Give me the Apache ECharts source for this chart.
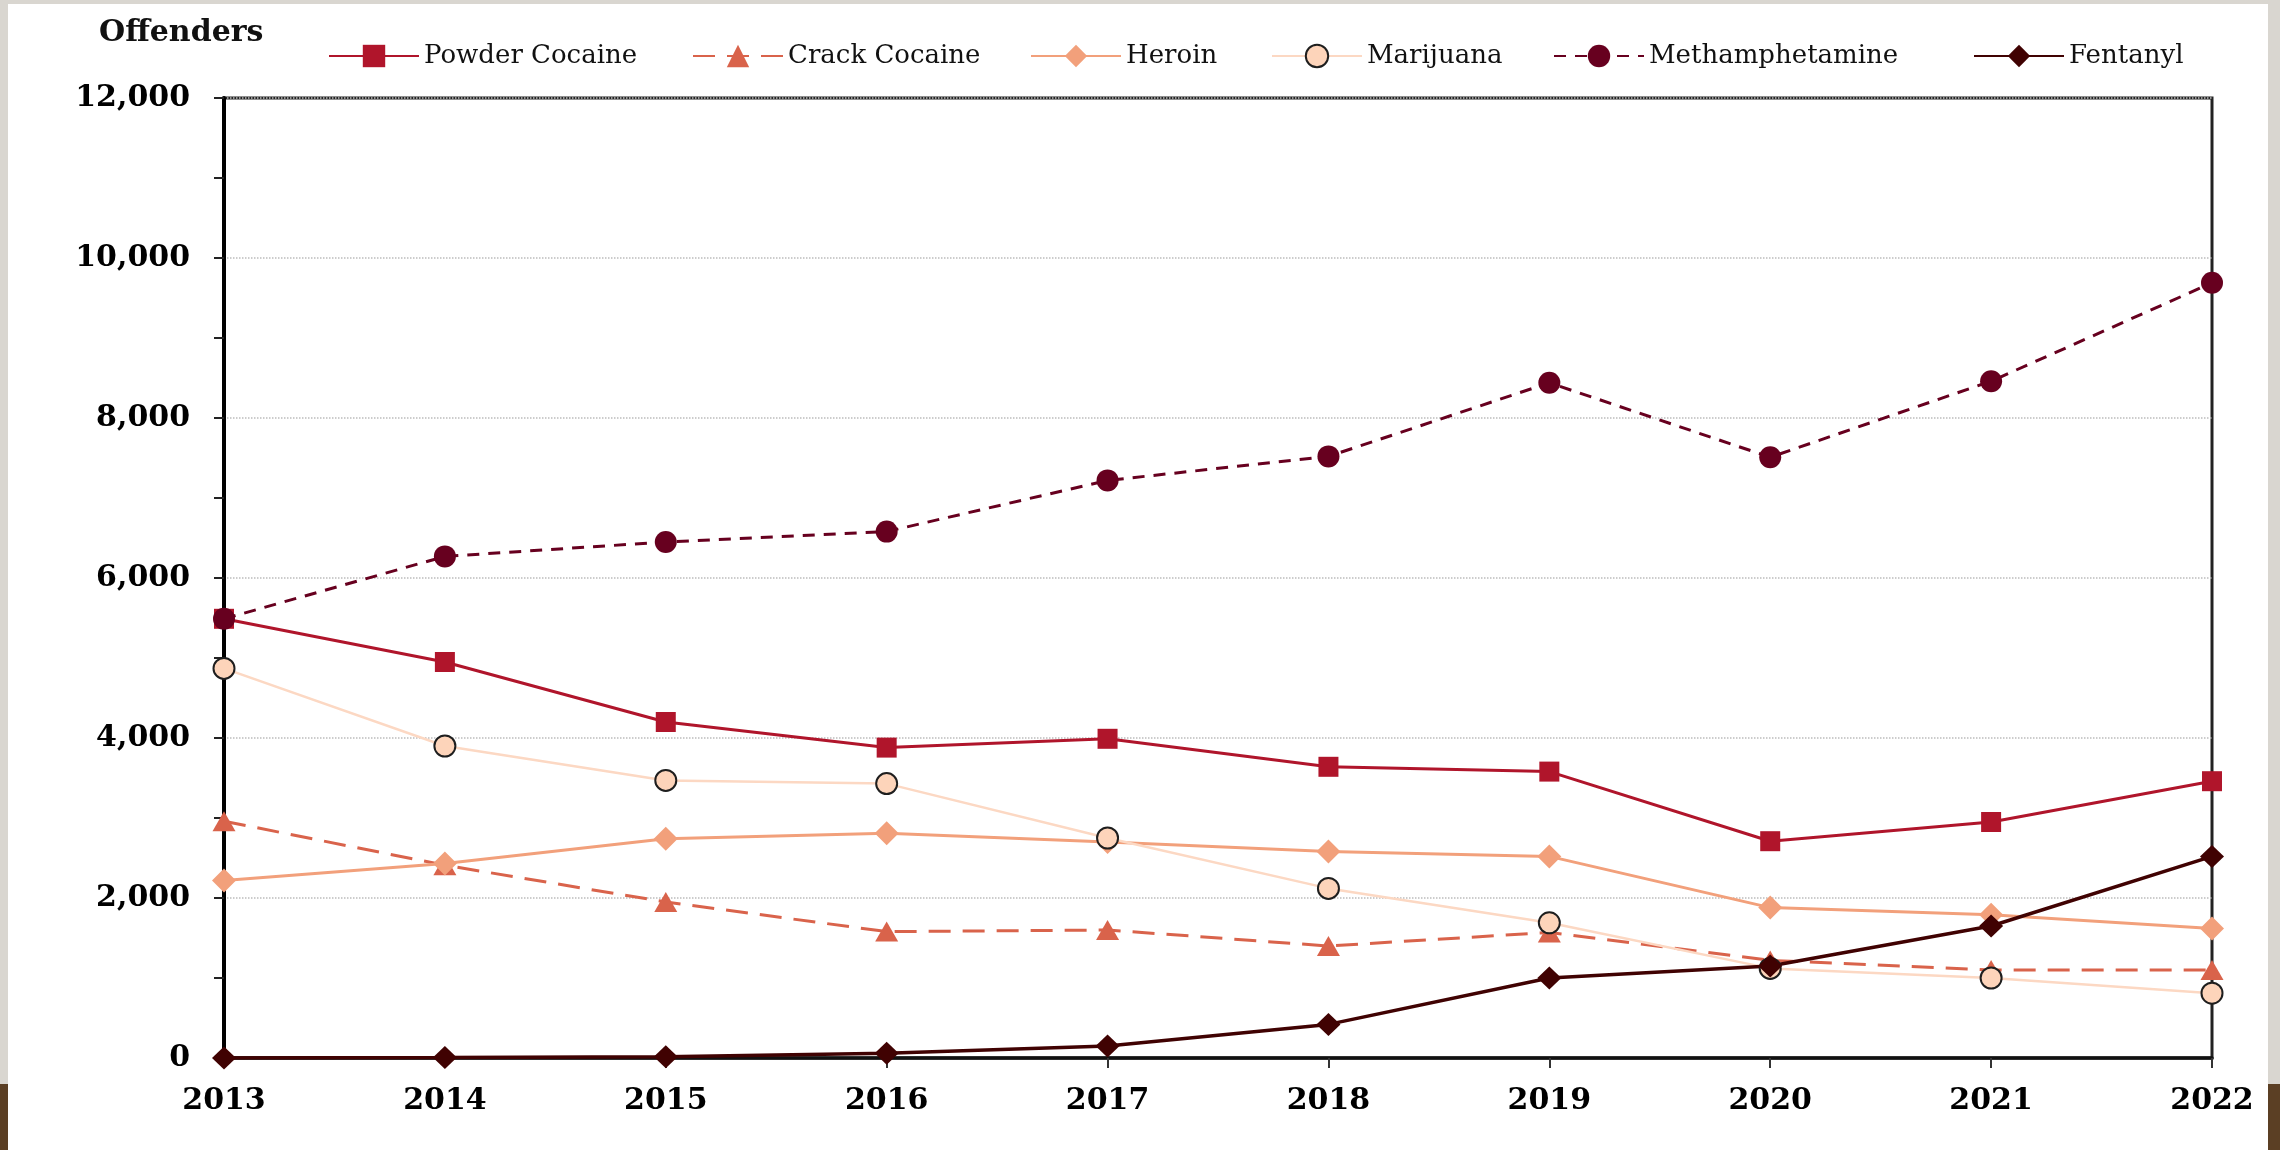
<!DOCTYPE html>
<html>
<head>
<meta charset="utf-8">
<script src="https://cdn.jsdelivr.net/npm/echarts@6/dist/echarts.min.js"></script>
<style>
  html, body { margin: 0; padding: 0; width: 2280px; height: 1150px; overflow: hidden; background: #d9d6d0; }
  #brownL { position: absolute; left: 0; top: 1084px; width: 8px; height: 66px; background: #5b3f24; }
  #brownR { position: absolute; left: 2268px; top: 1084px; width: 12px; height: 66px; background: #5b3f24; }
  #paper { position: absolute; left: 8px; top: 4px; width: 2260px; height: 1146px; background: #ffffff; }
  #chart { position: absolute; left: 0; top: 0; width: 2280px; height: 1150px; }
</style>
</head>
<body>
<div id="brownL"></div>
<div id="brownR"></div>
<div id="paper"></div>
<div id="chart"></div>
<script>
const years = ['2013', '2014', '2015', '2016', '2017', '2018', '2019', '2020', '2021', '2022'];
const powderCocaine = [5490, 4950, 4200, 3880, 3990, 3640, 3580, 2710, 2950, 3460];
const crackCocaine = [2960, 2410, 1950, 1580, 1600, 1400, 1570, 1220, 1100, 1100];
const heroin = [2220, 2430, 2740, 2810, 2700, 2580, 2520, 1880, 1790, 1620];
const marijuana = [4870, 3900, 3470, 3430, 2750, 2120, 1690, 1120, 1000, 810];
const methamphetamine = [5490, 6270, 6450, 6580, 7220, 7520, 8440, 7510, 8460, 9690];
const fentanyl = [0, 5, 15, 60, 150, 420, 1000, 1150, 1650, 2520];
const yTicks = [0, 2000, 4000, 6000, 8000, 10000, 12000];
const axisTitle = 'Offenders';

const FONT = '"DejaVu Serif", "Liberation Serif", serif';
const chart = echarts.init(document.getElementById('chart'), null, { renderer: 'canvas' });

const seriesDefs = [
  { name: 'Powder Cocaine', data: powderCocaine, color: '#b0152b', symbol: 'rect', size: 20, width: 3, type: 'solid' },
  { name: 'Crack Cocaine', data: crackCocaine, color: '#d9634b', symbol: 'triangle', size: [23, 20], width: 3, type: [22, 12] },
  { name: 'Heroin', data: heroin, color: '#f2a07b', symbol: 'diamond', size: 24, width: 3, type: 'solid' },
  { name: 'Marijuana', data: marijuana, color: '#fcd8c3', symbol: 'circle', size: 21, width: 2.5, type: 'solid', fill: '#fdd4ba', border: '#1e1e1e' },
  { name: 'Methamphetamine', data: methamphetamine, color: '#67001f', symbol: 'circle', size: 22, width: 3, type: [12, 9] },
  { name: 'Fentanyl', data: fentanyl, color: '#400202', symbol: 'diamond', size: [24, 23], width: 3.5, type: 'solid' }
];
const legendLefts = [323, 687, 1025, 1266, 1548, 1968];

const series = seriesDefs.map(s => ({
  name: s.name,
  type: 'line',
  data: s.data,
  symbol: s.symbol,
  symbolSize: s.size,
  showAllSymbol: true,
  lineStyle: { color: s.color, width: s.width, type: s.type },
  itemStyle: s.border
    ? { color: s.fill, borderColor: s.border, borderWidth: 2 }
    : { color: s.color, borderWidth: 0 },
  emphasis: { disabled: true },
  animation: false
}));

const legends = seriesDefs.map((s, i) => ({
  data: [s.name],
  left: legendLefts[i],
  top: 38,
  itemWidth: 90,
  itemHeight: 28,
  selectedMode: false,
  textStyle: { fontFamily: FONT, fontSize: 26, color: '#111' }
}));

chart.setOption({
  animation: false,
  backgroundColor: 'transparent',
  legend: legends,
  graphic: [{
    type: 'text',
    left: 99,
    top: 18,
    style: { text: axisTitle, font: 'bold 30px ' + FONT, fill: '#111' }
  }],
  grid: {
    left: 224, right: 68, top: 98, bottom: 92,
    show: true, backgroundColor: '#ffffff', borderColor: '#222', borderWidth: 3
  },
  xAxis: {
    type: 'category',
    data: years,
    boundaryGap: false,
    axisLine: { lineStyle: { color: '#111', width: 3.5 } },
    axisTick: { show: true, length: 10, lineStyle: { color: '#333', width: 2 } },
    axisLabel: { margin: 28, fontFamily: FONT, fontWeight: 'bold', fontSize: 30, color: '#000' },
    splitLine: { show: false }
  },
  yAxis: {
    type: 'value',
    min: yTicks[0],
    max: yTicks[yTicks.length - 1],
    interval: 2000,
    axisLine: { show: true, lineStyle: { color: '#000', width: 4 } },
    axisTick: { show: true, length: 10, lineStyle: { color: '#222', width: 2 } },
    minorTick: { show: true, splitNumber: 2, length: 10, lineStyle: { color: '#222', width: 2 } },
    axisLabel: {
      margin: 34, fontFamily: FONT, fontWeight: 'bold', fontSize: 30, color: '#000',
      formatter: v => v.toLocaleString('en-US')
    },
    splitLine: { show: true, lineStyle: { color: '#bcbcbc', width: 1.5, type: 'dotted' } }
  },
  series: series
});
</script>
</body>
</html>
